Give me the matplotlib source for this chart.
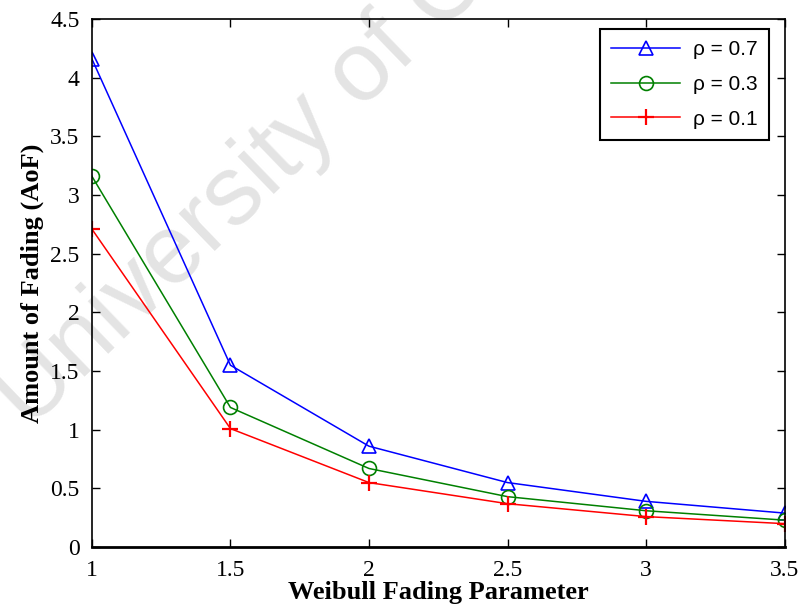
import matplotlib.pyplot as plt
import numpy as np

# Weibull fading parameter vs. amount of fading
weibull_k = [1.0, 1.5, 2.0, 2.5, 3.0, 3.5]
aof_rho07 = [4.16, 1.55, 0.86, 0.55, 0.39, 0.29]
aof_rho03 = [3.16, 1.19, 0.67, 0.43, 0.31, 0.23]
aof_rho01 = [2.71, 1.01, 0.55, 0.37, 0.26, 0.20]
labels = ['\u03c1 = 0.7', '\u03c1 = 0.3', '\u03c1 = 0.1']
xtick_labels = ['1', '1.5', '2', '2.5', '3', '3.5']
ytick_labels = ['0', '0.5', '1', '1.5', '2', '2.5', '3', '3.5', '4', '4.5']

fig = plt.figure(figsize=(7.99, 6.12), dpi=100)
ax = fig.add_axes([0.115, 0.106, 0.867, 0.863])

# faint watermark behind everything else
fig.text(0.036, 0.297, 'University of Cape Town', fontsize=71, color='#e4e4e4',
         rotation=44, rotation_mode='anchor', family='Liberation Sans',
         zorder=-1, ha='left', va='baseline')
ax.patch.set_alpha(0)

ax.plot(weibull_k, aof_rho07, color='#0000ff', marker='^', mfc='none', ms=10,
        mew=1.2, lw=1.1, label=labels[0])
ax.plot(weibull_k, aof_rho03, color='#008000', marker='o', mfc='none', ms=10,
        mew=1.2, lw=1.1, label=labels[1])
ax.plot(weibull_k, aof_rho01, color='#ff0000', marker='+', ms=11,
        mew=1.6, lw=1.1, label=labels[2])

ax.set_xlim(1, 3.5)
ax.set_ylim(0, 4.5)
ax.set_xticks(np.arange(1, 3.51, 0.5))
ax.set_yticks(np.arange(0, 4.51, 0.5))
ax.set_xticklabels(xtick_labels)
ax.set_yticklabels(ytick_labels)
ax.tick_params(direction='in', top=True, right=True, length=6, width=1,
               labelsize=17, pad=9)
for t in ax.get_xticklabels() + ax.get_yticklabels():
    t.set_family('Liberation Serif')
for s in ax.spines.values():
    s.set_linewidth(1.2)
ax.spines['bottom'].set_linewidth(2.0)

ax.set_xlabel('Weibull Fading Parameter', fontsize=19, fontweight='bold',
              family='Liberation Serif', labelpad=0)
ax.set_ylabel('Amount of Fading (AoF)', fontsize=19, fontweight='bold',
              family='Liberation Serif', labelpad=4)

leg = ax.legend(loc='upper right', bbox_to_anchor=(0.977, 0.981), borderaxespad=0,
                fancybox=False, edgecolor='black', framealpha=1,
                prop={'family': 'Liberation Sans', 'size': 15},
                handlelength=3.3, borderpad=0.55, labelspacing=0.75, handletextpad=0.6)
leg.get_frame().set_linewidth(1.5)

fig.savefig('out.png', dpi=100)
